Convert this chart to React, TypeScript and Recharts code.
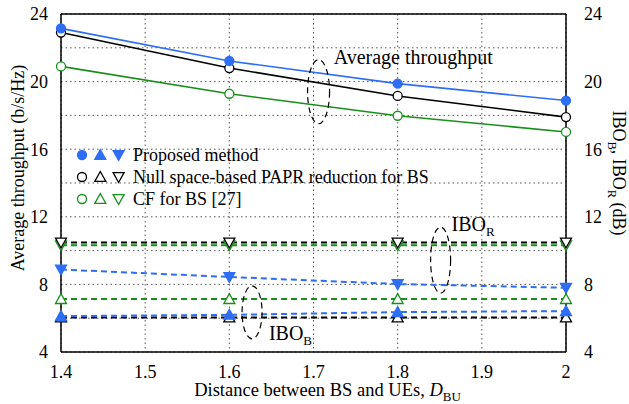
import { LineChart, Line, XAxis, YAxis, CartesianGrid, Legend, ReferenceDot } from "recharts";

const distances = [1.4, 1.6, 1.8, 2.0];
const throughputProposed = [23.15, 21.22, 19.88, 18.88];
const throughputNullSpace = [22.9, 20.8, 19.15, 17.9];
const throughputCF = [20.9, 19.28, 17.98, 17.02];
const iboRProposed = [8.88, 8.44, 8.02, 7.8];
const iboRNullSpace = [10.48, 10.48, 10.48, 10.48];
const iboRCF = [10.32, 10.32, 10.32, 10.32];
const iboBProposed = [6.12, 6.2, 6.36, 6.42];
const iboBNullSpace = [6.04, 6.04, 6.04, 6.04];
const iboBCF = [7.13, 7.13, 7.13, 7.13];

const xTicks = [1.4, 1.5, 1.6, 1.7, 1.8, 1.9, 2];
const yTicks = [4, 8, 12, 16, 20, 24];
const yGridTicks = [4, 6, 8, 10, 12, 14, 16, 18, 20, 22, 24];
const legendLabels = ["Proposed method", "Null space-based PAPR reduction for BS", "CF for BS [27]"];

const xMinorTicks = Array.from({ length: 31 }, (_, i) => Math.round((1.4 + i * 0.02) * 100) / 100);
const yMinorTicks = Array.from({ length: 41 }, (_, i) => 4 + i * 0.5);

const SERIF = "'Liberation Serif', 'Times New Roman', serif";
const BLUE = "#2e6ef5";
const BLACK = "#000000";
const GREEN = "#178f1a";
const colors = [BLUE, BLACK, GREEN];

const rows = distances.map((d, i) => ({
  d,
  tp0: throughputProposed[i],
  tp1: throughputNullSpace[i],
  tp2: throughputCF[i],
  r0: iboRProposed[i],
  r1: iboRNullSpace[i],
  r2: iboRCF[i],
  b0: iboBProposed[i],
  b1: iboBNullSpace[i],
  b2: iboBCF[i],
}));

type Kind = "circle" | "up" | "down";

function markerShape(kind: Kind, cx: number, cy: number, color: string, filled: boolean, key?: any) {
  const fill = filled ? color : "#fff";
  if (kind === "circle") {
    return <circle key={key} cx={cx} cy={cy} r={4.5} fill={fill} stroke={color} strokeWidth={1.3} />;
  }
  const s = 5.5;
  const pts =
    kind === "up"
      ? `${cx},${cy - s} ${cx - s},${cy + s * 0.8} ${cx + s},${cy + s * 0.8}`
      : `${cx},${cy + s} ${cx - s},${cy - s * 0.8} ${cx + s},${cy - s * 0.8}`;
  return <polygon key={key} points={pts} fill={fill} stroke={color} strokeWidth={1.3} />;
}

const makeDot = (kind: Kind, color: string, filled: boolean) => (props: any) => {
  const { cx, cy, index } = props;
  if (cx == null || cy == null) return <g key={index} />;
  return markerShape(kind, cx, cy, color, filled, index);
};

interface SeriesConfig {
  key: string;
  color: string;
  kind: Kind;
  filled: boolean;
  dashed: boolean;
  axis: string;
}

const series: SeriesConfig[] = [
  { key: "tp2", color: GREEN, kind: "circle", filled: false, dashed: false, axis: "y" },
  { key: "tp1", color: BLACK, kind: "circle", filled: false, dashed: false, axis: "y" },
  { key: "tp0", color: BLUE, kind: "circle", filled: true, dashed: false, axis: "y" },
  { key: "r2", color: GREEN, kind: "down", filled: false, dashed: true, axis: "yR" },
  { key: "r1", color: BLACK, kind: "down", filled: false, dashed: true, axis: "yR" },
  { key: "r0", color: BLUE, kind: "down", filled: true, dashed: true, axis: "yR" },
  { key: "b2", color: GREEN, kind: "up", filled: false, dashed: true, axis: "yR" },
  { key: "b1", color: BLACK, kind: "up", filled: false, dashed: true, axis: "yR" },
  { key: "b0", color: BLUE, kind: "up", filled: true, dashed: true, axis: "yR" },
];

// serif tick labels (the default tick text ignored the font family)
function SerifTick(props: any) {
  const { x, y, payload, textAnchor, orientation } = props;
  const dy = orientation === "bottom" ? "0.75em" : "0.35em";
  return (
    <text x={x} y={y} dy={dy} textAnchor={textAnchor} fontSize={18} fontFamily={SERIF} fill="#000">
      {payload.value}
    </text>
  );
}

function XLabel({ viewBox }: any) {
  const cx = viewBox.x + viewBox.width / 2 + 14;
  return (
    <text x={cx} y={viewBox.y + 44} textAnchor="middle" fontSize={18.5} fontFamily={SERIF} fill="#000">
      Distance between BS and UEs,{" "}
      <tspan fontStyle="italic">D</tspan>
      <tspan fontSize={13} dy={5}>BU</tspan>
    </text>
  );
}

function LeftLabel() {
  return (
    <text x={24} y={168} transform="rotate(-90 24 168)" textAnchor="middle" fontSize={18} fontFamily={SERIF} fill="#000">
      Average throughput (b/s/Hz)
    </text>
  );
}

function RightLabel() {
  return (
    <text x={613} y={173} transform="rotate(90 613 173)" textAnchor="middle" fontSize={18} fontFamily={SERIF} fill="#000">
      IBO<tspan fontSize={12.5} dy={5}>B</tspan>
      <tspan dy={-5}>, IBO</tspan>
      <tspan fontSize={12.5} dy={5}>R</tspan>
      <tspan dy={-5}> (dB)</tspan>
    </text>
  );
}

function LegendBox() {
  const kinds: Kind[] = ["circle", "up", "down"];
  return (
    <div style={{ fontFamily: SERIF, fontSize: 18, color: "#000", lineHeight: "22px" }}>
      {legendLabels.map((label, i) => (
        <div key={label} style={{ display: "flex", alignItems: "center", height: 22 }}>
          <svg width={56} height={16} style={{ marginRight: 3 }}>
            {kinds.map((k, j) => markerShape(k, 8 + j * 18.3, 8, colors[i], i === 0, k))}
          </svg>
          <span>{label}</span>
        </div>
      ))}
    </div>
  );
}

const ellipse = (rx: number, ry: number) => (props: any) => (
  <ellipse cx={props.cx} cy={props.cy} rx={rx} ry={ry} fill="none" stroke="#000" strokeWidth={1.2} strokeDasharray="6 4" />
);

const note = (main: string, sub?: string) => (props: any) => (
  <text x={props.cx} y={props.cy} dominantBaseline="central" fontSize={20} fontFamily={SERIF} fill="#000">
    {main}
    {sub && (
      <tspan fontSize={13} dy={7}>
        {sub}
      </tspan>
    )}
  </text>
);

export default function App() {
  return (
    <div style={{ position: "absolute", left: 0, top: 0, width: 629, height: 404, background: "#fff", fontFamily: SERIF }}>
      <LineChart width={629} height={404} data={rows} margin={{ top: 14, right: 0, bottom: 0, left: 0 }}>
        <CartesianGrid xAxisId="x" yAxisId="y" stroke="#555" strokeDasharray="1.5 3" verticalValues={xTicks} horizontalValues={yGridTicks} />
        <XAxis
          xAxisId="x"
          dataKey="d"
          type="number"
          domain={[1.4, 2]}
          ticks={xTicks}
          interval={0}
          height={52}
          tickLine={false}
          axisLine={{ stroke: "#000", strokeWidth: 1.5 }}
          tick={<SerifTick />}
          tickMargin={6}
          label={<XLabel />}
        />
        <XAxis xAxisId="xb1" dataKey="d" type="number" domain={[1.4, 2]} ticks={xMinorTicks} interval={0} mirror tick={false} axisLine={false} tickSize={3} tickLine={{ stroke: "#000" }} />
        <XAxis xAxisId="xb2" dataKey="d" type="number" domain={[1.4, 2]} ticks={xTicks} interval={0} mirror tick={false} axisLine={false} tickSize={6} tickLine={{ stroke: "#000" }} />
        <XAxis xAxisId="xt1" orientation="top" dataKey="d" type="number" domain={[1.4, 2]} ticks={xMinorTicks} interval={0} mirror tick={false} axisLine={{ stroke: "#000", strokeWidth: 1.5 }} tickSize={3} tickLine={{ stroke: "#000" }} />
        <XAxis xAxisId="xt2" orientation="top" dataKey="d" type="number" domain={[1.4, 2]} ticks={xTicks} interval={0} mirror tick={false} axisLine={false} tickSize={6} tickLine={{ stroke: "#000" }} />
        <YAxis
          yAxisId="y"
          domain={[4, 24]}
          ticks={yTicks}
          interval={0}
          width={61}
          tickLine={false}
          axisLine={{ stroke: "#000", strokeWidth: 1.5 }}
          tick={<SerifTick />}
          tickMargin={7}
          label={<LeftLabel />}
        />
        <YAxis
          yAxisId="yR"
          orientation="right"
          domain={[4, 24]}
          ticks={yTicks}
          interval={0}
          width={63}
          tickLine={false}
          axisLine={{ stroke: "#000", strokeWidth: 1.5 }}
          tick={<SerifTick />}
          tickMargin={12}
          label={<RightLabel />}
        />
        <YAxis yAxisId="yl1" domain={[4, 24]} ticks={yMinorTicks} interval={0} mirror tick={false} axisLine={false} tickSize={3} tickLine={{ stroke: "#000" }} />
        <YAxis yAxisId="yl2" domain={[4, 24]} ticks={yGridTicks} interval={0} mirror tick={false} axisLine={false} tickSize={6} tickLine={{ stroke: "#000" }} />
        <YAxis yAxisId="yr1" orientation="right" domain={[4, 24]} ticks={yMinorTicks} interval={0} mirror tick={false} axisLine={false} tickSize={3} tickLine={{ stroke: "#000" }} />
        <YAxis yAxisId="yr2" orientation="right" domain={[4, 24]} ticks={yGridTicks} interval={0} mirror tick={false} axisLine={false} tickSize={6} tickLine={{ stroke: "#000" }} />

        {series.map((s) => (
          <Line
            key={s.key}
            xAxisId="x"
            yAxisId={s.axis}
            dataKey={s.key}
            type="linear"
            stroke={s.color}
            strokeWidth={s.dashed ? 2 : 1.6}
            strokeDasharray={s.dashed ? "6 4" : undefined}
            dot={makeDot(s.kind, s.color, s.filled)}
            activeDot={false}
            isAnimationActive={false}
          />
        ))}

        <ReferenceDot xAxisId="x" yAxisId="y" x={1.706} y={19.4} r={1} shape={ellipse(11, 32)} />
        <ReferenceDot xAxisId="x" yAxisId="y" x={1.724} y={21.45} r={1} shape={note("Average throughput")} />
        <ReferenceDot xAxisId="x" yAxisId="y" x={1.851} y={9.44} r={1} shape={ellipse(10, 33)} />
        <ReferenceDot xAxisId="x" yAxisId="y" x={1.864} y={11.55} r={1} shape={note("IBO", "R")} />
        <ReferenceDot xAxisId="x" yAxisId="y" x={1.627} y={6.35} r={1} shape={ellipse(10, 26.5)} />
        <ReferenceDot xAxisId="x" yAxisId="y" x={1.647} y={5.15} r={1} shape={note("IBO", "B")} />

        <Legend
          layout="vertical"
          align="center"
          verticalAlign="middle"
          content={<LegendBox />}
          wrapperStyle={{ left: 74, top: 144, width: "auto", height: "auto" }}
        />
      </LineChart>
    </div>
  );
}
